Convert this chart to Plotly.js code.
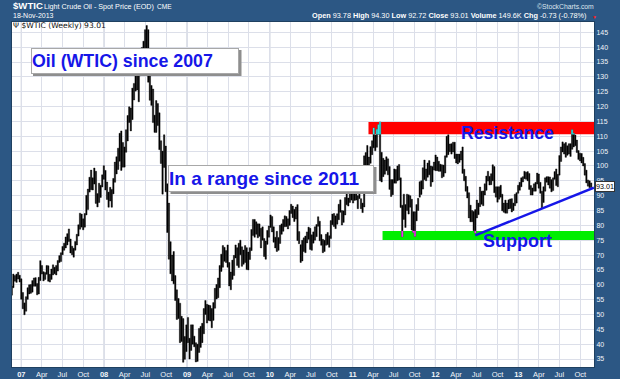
<!DOCTYPE html>
<html><head><meta charset="utf-8">
<script src="https://cdn.plot.ly/plotly-3.0.1.min.js"></script>
<style>html,body{margin:0;padding:0;background:#2c5784;overflow:hidden}#chart{width:620px;height:379px}</style>
</head><body><div id="chart"></div>
<script>
// ---- weekly bars (week starting 2006-11-20), low / high per week ----
const firstWeek = '2006-11-20';
const lo2006 = [56.5,59.0,61.2,60.8,61.9,60.9];
const hi2006 = [59.6,63.6,63.1,63.6,64.2,63.2];
const lo2007 = [55.1,51.9,49.9,51.1,55.1,56.9,57.1,57.5,59.5,59.5,56.6,56.9,61.4,63.6,61.3,61.8,63.5,61.2,60.9,61.8,63.3,63.7,63.3,64.6,67.5,67.8,70.1,71.6,72.4,73.4,74.6,70.7,70.1,69.3,71.6,73.4,76.4,78.7,79.4,78.5,79.4,83.5,85.3,91.2,92.0,91.9,93.9,87.4,86.2,87.7,89.4,92.9];
const hi2007 = [62.0,57.4,53.9,56.0,59.0,60.0,60.1,61.4,62.3,62.4,60.4,62.5,68.1,66.5,64.4,64.1,66.5,66.4,63.5,65.3,66.7,65.9,66.5,68.2,69.8,70.8,72.9,74.0,76.1,77.2,78.8,75.4,73.0,72.3,74.6,77.0,80.2,84.1,83.8,82.2,84.0,90.1,92.2,96.2,98.6,96.0,99.3,98.2,90.7,94.2,93.5,97.0];
const lo2008 = [95.5,91.9,88.7,86.1,88.2,86.1,90.6,94.5,97.3,98.8,101.6,98.5,99.6,99.6,104.6,108.4,114.6,111.8,115.6,122.2,125.2,125.6,121.6,130.4,131.0,133.7,139.0,135.5,128.2,122.1,120.4,114.6,111.3,111.3,113.6,105.5,100.8,90.5,99.5,91.3,77.6,68.6,63.7,61.3,60.3,54.7,48.3,48.6,40.5,40.9,33.9,34.9];
const hi2008 = [100.1,98.5,94.6,91.2,92.8,92.1,95.8,101.3,103.1,106.0,111.0,111.8,107.9,106.4,112.2,117.0,119.9,119.5,126.2,127.8,135.1,133.1,139.1,138.7,139.9,142.0,145.9,147.3,145.9,131.0,127.1,125.9,117.1,122.0,121.0,117.9,108.5,105.0,110.5,106.7,94.0,87.5,74.5,70.0,71.2,63.1,58.3,55.4,53.8,49.4,48.6,42.6];
const lo2009 = [37.5,40.5,35.0,37.9,40.0,39.1,34.0,34.2,37.2,38.9,40.5,43.5,50.0,47.1,48.0,47.8,45.5,48.0,52.1,55.2,55.6,59.0,64.5,65.9,67.9,67.5,65.9,59.6,58.3,61.8,63.1,69.0,66.5,65.8,70.1,66.2,66.9,67.5,65.1,65.0,68.5,71.5,76.6,76.0,77.0,75.8,76.3,72.4,75.0,69.5,68.6,73.6];
const hi2009 = [46.5,49.0,42.0,46.5,46.5,42.7,40.5,40.0,45.3,46.0,47.0,52.0,54.7,53.4,53.2,53.0,52.0,54.0,58.8,60.1,62.3,66.5,70.3,73.2,72.6,71.5,73.4,67.5,64.3,68.3,69.9,73.4,72.5,74.0,75.0,72.8,71.7,73.2,72.5,71.0,72.5,78.6,82.0,82.0,81.2,80.5,80.5,79.0,79.5,75.6,74.7,78.3];
const lo2010 = [76.0,79.3,77.8,74.3,72.4,71.2,71.6,73.9,77.0,78.0,79.5,79.6,78.8,80.0,84.0,82.6,81.3,82.1,74.9,73.8,67.5,68.0,71.2,70.8,74.1,75.3,71.9,71.6,74.0,75.0,76.2,79.7,74.8,73.3,70.8,71.2,73.3,73.5,72.6,75.6,80.2,79.6,78.9,80.4,81.9,84.4,80.1,81.0,83.5,86.9,86.5,87.7,88.5];
const hi2010 = [79.8,83.5,83.0,79.5,76.0,78.0,75.9,80.0,80.5,82.0,83.2,83.0,82.2,85.0,87.1,86.5,85.4,86.2,87.0,77.9,73.5,75.0,75.8,76.4,77.8,79.4,79.0,76.8,77.8,79.5,80.3,82.9,81.4,76.9,75.3,75.0,77.0,77.6,76.5,81.6,83.8,84.0,83.2,83.9,87.1,88.6,85.0,84.9,89.4,90.8,89.2,91.7,92.1];
const lo2011 = [87.5,88.4,88.5,85.6,89.0,85.6,84.3,86.2,96.8,99.0,96.3,100.9,103.8,106.1,105.1,106.3,110.7,95.0,94.6,96.4,97.2,98.4,97.0,92.1,89.7,90.3,94.2,94.2,95.0,95.3,86.0,76.2,82.0,79.3,85.0,83.8,86.1,78.4,77.6,76.3,81.5,85.0,89.5,90.4,92.2,95.4,95.0,96.2,97.0,93.1,94.6,98.6];
const hi2011 = [91.4,92.0,92.6,90.0,92.5,89.0,87.5,103.4,104.5,106.9,103.0,106.5,108.5,112.8,110.4,112.3,113.9,114.8,104.6,102.6,102.0,103.1,102.4,99.8,95.4,95.4,99.0,98.8,100.0,100.5,96.0,86.8,90.5,87.0,90.5,90.3,90.0,88.8,84.6,84.6,87.0,89.1,94.7,95.0,99.4,102.0,99.0,101.0,101.8,100.0,99.8,101.3];
const lo2012 = [98.4,98.4,98.2,98.2,96.0,96.4,97.6,102.9,103.8,104.8,104.0,104.7,102.5,101.0,100.7,101.2,102.0,97.5,95.0,91.5,89.2,82.5,81.2,81.2,78.2,77.4,82.5,83.6,86.3,87.1,86.6,90.2,91.8,94.9,93.6,93.7,95.0,91.0,89.5,87.8,88.8,89.5,84.9,84.4,84.1,84.1,85.5,85.7,84.5,85.0,86.6,87.5];
const hi2012 = [103.7,103.0,101.6,100.6,100.4,100.3,103.4,110.0,110.5,107.4,107.5,108.0,108.0,104.0,104.0,104.0,105.0,106.4,98.9,96.5,93.1,91.0,86.8,85.0,84.7,85.3,88.5,87.5,92.9,91.5,91.6,94.0,96.6,98.2,96.5,97.4,100.4,99.8,93.0,93.0,93.0,93.5,90.5,87.5,88.5,87.5,88.6,88.9,89.0,87.5,90.5,91.0];
const lo2013 = [90.8,91.8,93.0,94.6,95.7,95.5,95.0,92.1,90.2,90.2,91.5,91.5,93.9,92.5,90.8,85.8,87.7,91.5,94.5,93.6,92.5,91.3,91.7,95.5,93.4,93.0,96.9,101.5,104.7,104.0,102.9,103.6,104.0,103.2,105.6,106.4,106.8,104.5,102.2,101.7,101.0,100.0,96.9,94.3,93.2,92.7,92.72];
const hi2013 = [93.5,94.5,96.0,96.4,98.2,97.9,98.1,97.5,93.4,92.6,94.0,94.5,97.6,97.3,94.5,91.5,93.0,96.0,96.4,96.4,96.3,95.4,96.0,98.1,99.0,97.2,103.5,106.4,108.1,107.5,107.9,106.8,107.5,107.5,112.2,110.9,110.4,108.7,105.2,104.3,104.2,102.9,100.8,98.6,95.3,95.0,94.30];

// ---- axis ticks ----
const tickDates = ['2007-01-01','2007-04-01','2007-07-01','2007-10-01','2008-01-01','2008-04-01','2008-07-01','2008-10-01','2009-01-01','2009-04-01','2009-07-01','2009-10-01','2010-01-01','2010-04-01','2010-07-01','2010-10-01','2011-01-01','2011-04-01','2011-07-01','2011-10-01','2012-01-01','2012-04-01','2012-07-01','2012-10-01','2013-01-01','2013-04-01','2013-07-01','2013-10-01'];
const tickLabels = ['<b>07</b>','Apr','Jul','Oct','<b>08</b>','Apr','Jul','Oct','<b>09</b>','Apr','Jul','Oct','<b>10</b>','Apr','Jul','Oct','<b>11</b>','Apr','Jul','Oct','<b>12</b>','Apr','Jul','Oct','<b>13</b>','Apr','Jul','Oct'];
const yearLines = ['2007-01-01','2008-01-01','2009-01-01','2010-01-01','2011-01-01','2012-01-01','2013-01-01'];

// ---- annotations data ----
const resistance = {from:'2011-03-12', low:110.7, high:114.8};
const support = {from:'2011-05-13', low:75.1, high:78.1};
const trend = {x0:'2012-06-25', y0:76.6, x1:'2013-11-30', y1:92.7};
const lastClose = 93.01;
const xRange = ['2006-11-21','2013-11-30 12:00'];
const yRange = [32.31, 148.47];

const lows = [].concat(lo2006,lo2007,lo2008,lo2009,lo2010,lo2011,lo2012,lo2013);
const highs = [].concat(hi2006,hi2007,hi2008,hi2009,hi2010,hi2011,hi2012,hi2013);
const DAY = 86400000;
const t0 = Date.parse(firstWeek + 'T00:00:00Z');
const dates = lows.map((_, i) => new Date(t0 + i*7*DAY).toISOString().slice(0,10));

function overlap(band){
  const xs=[], base=[], ys=[];
  const start = Date.parse(band.from+'T00:00:00Z');
  dates.forEach((d,i)=>{
    if (Date.parse(d+'T00:00:00Z') < start) return;
    const b = Math.max(lows[i], band.low), t = Math.min(highs[i], band.high);
    if (t > b) { xs.push(d); base.push(b); ys.push(t-b); }
  });
  return {xs, base, ys};
}
const cyan = overlap(resistance), pink = overlap(support);
const barW = 6*DAY;

const traces = [
  {type:'bar', x:dates, base:lows, y:highs.map((h,i)=>h-lows[i]), width:barW,
   marker:{color:'#000', line:{width:0.4,color:'#000'}}, hoverinfo:'skip'},
  {type:'bar', x:cyan.xs, base:cyan.base, y:cyan.ys, width:barW,
   marker:{color:'#33e6e6', line:{width:0.4,color:'#33e6e6'}}, hoverinfo:'skip'},
  {type:'bar', x:pink.xs, base:pink.base, y:pink.ys, width:barW,
   marker:{color:'#ff33ff', line:{width:0.4,color:'#ff33ff'}}, hoverinfo:'skip'}
];

const FRAME = '#2c5784';
const FONT = 'Arial, "Liberation Sans", sans-serif';
const BLUE = '#1616e8';
// pixel helpers for paper placement (plot area 12..594 x 22..367)
const px = v => (v-12)/582, py = v => (367-v)/345;

const shapes = [];
yearLines.forEach(d => shapes.push({type:'line', xref:'x', yref:'paper', x0:d, x1:d, y0:0, y1:1,
  line:{color:'#b9bece', width:1}, layer:'between'}));
shapes.push({type:'rect', xref:'x', yref:'y', x0:resistance.from, x1:xRange[1], y0:resistance.low, y1:resistance.high,
  fillcolor:'#ff0000', line:{width:0}, layer:'between'});
shapes.push({type:'rect', xref:'x', yref:'y', x0:support.from, x1:xRange[1], y0:support.low, y1:support.high,
  fillcolor:'#00ee00', line:{width:0}, layer:'between'});
shapes.push({type:'line', xref:'x', yref:'y', x0:trend.x0, y0:trend.y0, x1:trend.x1, y1:trend.y1,
  line:{color:BLUE, width:2.5}, layer:'above'});
// box shadows
shapes.push({type:'rect', xref:'paper', yref:'paper', x0:px(33), x1:px(241.5), y0:py(76), y1:py(50), fillcolor:'#8e8e8e', line:{width:0}, layer:'above'});
shapes.push({type:'rect', xref:'paper', yref:'paper', x0:px(170.5), x1:px(376.5), y0:py(194), y1:py(167), fillcolor:'#8e8e8e', line:{width:0}, layer:'above'});

const W = '#ffffff';
const ann = (o) => Object.assign({xref:'paper', yref:'paper', showarrow:false, xanchor:'left', yanchor:'middle', font:{family:FONT, size:8, color:W}}, o);
const annotations = [
  ann({x:px(11), y:py(6), text:'<b>$WTIC</b>', font:{family:FONT, size:9.6, color:W}}),
  ann({x:px(42), y:py(6.5), text:'Light Crude Oil - Spot Price (EOD)', font:{family:FONT, size:7.2, color:W}}),
  ann({x:px(154.5), y:py(6.8), text:'CME', font:{family:FONT, size:6.6, color:W}}),
  ann({x:px(11), y:py(15.8), text:'18-Nov-2013', font:{family:FONT, size:7, color:W}}),
  ann({x:px(589), xanchor:'right', y:py(15.8), text:'<b>Open</b> 93.78 <b>High</b> 94.30 <b>Low</b> 92.72 <b>Close</b> 93.01 <b>Volume</b> 149.6K <b>Chg</b> -0.73 (-0.78%)', font:{family:FONT, size:7.3, color:W}}),
  ann({x:px(590), y:py(16.5), text:'▼', font:{family:FONT, size:5, color:'#ff2020'}}),
  ann({x:px(596), xanchor:'right', y:py(6.8), text:'©StockCharts.com', font:{family:FONT, size:6.8, color:'#dde5ee'}}),
  ann({x:px(11), y:py(25.8), text:'Ψ $WTIC (Weekly) 93.01', font:{family:'"DejaVu Sans", Verdana, sans-serif', size:7.6, color:'#111'}}),
  ann({x:px(30.5), y:py(60.8), width:206, height:24, align:'left', bgcolor:'#fff', bordercolor:'#a8a8a8', borderwidth:1, borderpad:0,
       text:'<b>Oil (WTIC) since 2007</b>', font:{family:FONT, size:17.8, color:BLUE}}),
  ann({x:px(168), y:py(178.6), width:204, height:25, align:'left', bgcolor:'#fff', bordercolor:'#a8a8a8', borderwidth:1, borderpad:0,
       text:'<b>In a range since 2011</b>', font:{family:FONT, size:19, color:BLUE}}),
  ann({x:px(507), xanchor:'center', y:py(133), text:'<b>Resistance</b>', font:{family:FONT, size:17.6, color:BLUE}}),
  ann({x:px(517), xanchor:'center', y:py(241), text:'<b>Support</b>', font:{family:FONT, size:18, color:BLUE}}),
  {xref:'paper', yref:'y', x:1, y:lastClose, xanchor:'left', yanchor:'middle', xshift:1, showarrow:false,
   text:'93.01', bgcolor:'#fff', bordercolor:'#333', borderwidth:1, borderpad:0,
   font:{family:FONT, size:7.2, color:'#000'}}
];

const layout = {
  width:620, height:379,
  margin:{l:12, r:26, t:22, b:12, pad:0},
  paper_bgcolor:FRAME, plot_bgcolor:'#ffffff',
  showlegend:false, barmode:'overlay',
  xaxis:{type:'date', range:xRange, tickvals:tickDates, ticktext:tickLabels,
    showgrid:true, gridcolor:'#dcdfe9', gridwidth:1, zeroline:false,
    ticks:'', showline:true, linecolor:'#1f4060', mirror:true,
    tickfont:{family:FONT, size:7.5, color:'#f2f5f9'}, fixedrange:true},
  yaxis:{side:'right', range:yRange, tick0:0, dtick:5, showgrid:true, gridcolor:'#dcdfe9', gridwidth:1,
    zeroline:false, ticks:'', showline:true, linecolor:'#1f4060', mirror:true,
    tickfont:{family:FONT, size:7, color:'#f2f5f9'}, fixedrange:true},
  shapes, annotations
};
Plotly.newPlot('chart', traces, layout, {displayModeBar:false, staticPlot:true});
</script>
</body></html>
